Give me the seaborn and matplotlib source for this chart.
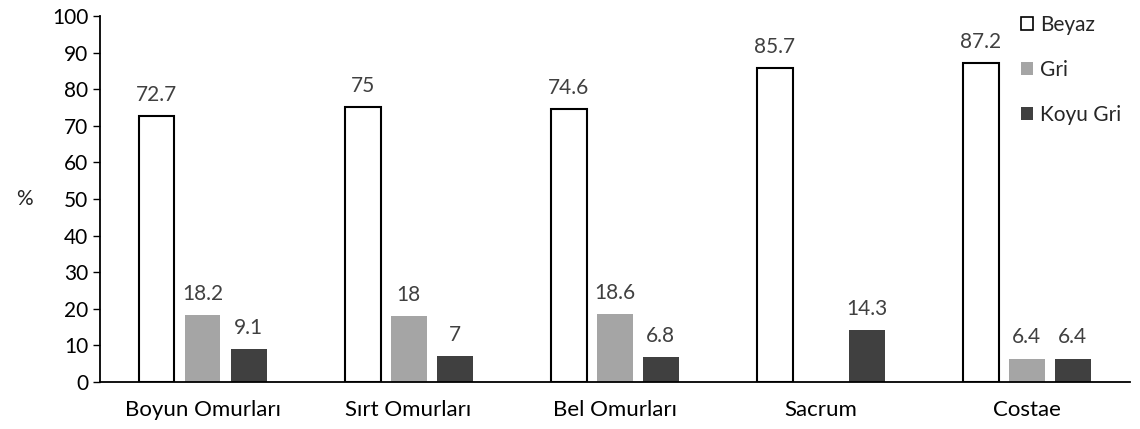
import matplotlib
matplotlib.use("Agg")
import matplotlib.pyplot as plt
import seaborn as sns
import pandas as pd
from matplotlib.patches import Patch

categories = ["Boyun Omurları", "Sırt Omurları", "Bel Omurları", "Sacrum", "Costae"]
series = ["Beyaz", "Gri", "Koyu Gri"]
beyaz = [72.7, 75, 74.6, 85.7, 87.2]
gri = [18.2, 18, 18.6, 0, 6.4]
koyu_gri = [9.1, 7, 6.8, 14.3, 6.4]

colors = {"Beyaz": "#FFFFFF", "Gri": "#A5A5A5", "Koyu Gri": "#404040"}

df = pd.DataFrame({
    "kategori": categories * 3,
    "seri": [s for s in series for _ in categories],
    "deger": beyaz + gri + koyu_gri,
})

sns.set_style("white")
plt.rcParams["font.family"] = ["Lato", "DejaVu Sans"]

fig = plt.figure(figsize=(11.4, 4.29), dpi=100)
ax = fig.add_axes([0.0873, 0.1096, 0.9037, 0.8531])

sns.barplot(data=df, x="kategori", y="deger", hue="seri", hue_order=series,
            order=categories, palette=colors, width=0.67, gap=0.22,
            legend=False, ax=ax, saturation=1)

for cont, name in zip(ax.containers, series):
    for bar in cont:
        if name == "Beyaz":
            bar.set_edgecolor("black")
            bar.set_linewidth(1.5)
        else:
            bar.set_edgecolor("none")
    labels = [f"{v:g}" if v > 0 else "" for v in cont.datavalues]
    ax.bar_label(cont, labels=labels, padding=8, fontsize=15, color="#404040")

ax.set_ylim(0, 100)
ax.set_yticks(range(0, 101, 10))
ax.set_xlim(-0.5, 4.5)
ax.set_xlabel("")
ax.set_ylabel("%", rotation=0, fontsize=15, labelpad=20, va="center")
ax.tick_params(axis="y", length=5, width=1, labelsize=15, color="black", pad=3, left=True)
ax.tick_params(axis="x", length=0, labelsize=16, pad=13)
for lbl in ax.get_xticklabels() + ax.get_yticklabels():
    lbl.set_color("black")

for side in ["top", "right"]:
    ax.spines[side].set_visible(False)
for side in ["left", "bottom"]:
    ax.spines[side].set_color("black")
    ax.spines[side].set_linewidth(1.3)

handles = [Patch(facecolor=colors[s], edgecolor="black" if s == "Beyaz" else "none",
                 linewidth=1.2) for s in series]
ax.legend(handles, series, loc="upper left", bbox_to_anchor=(0.886, 1.025),
          frameon=False, fontsize=15, handlelength=0.6, handleheight=0.6,
          handletextpad=0.35, labelspacing=1.2, borderaxespad=0)

fig.savefig("out.png", dpi=100, facecolor="white")
